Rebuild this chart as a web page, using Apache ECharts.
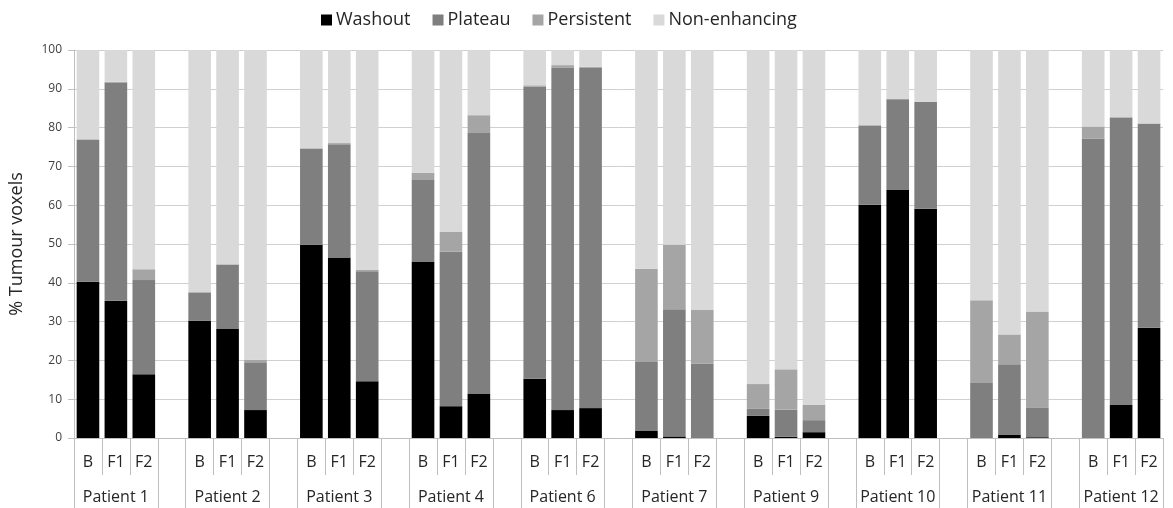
<!DOCTYPE html>
<html>
<head>
<meta charset="utf-8">
<script src="https://cdn.jsdelivr.net/npm/echarts@6/dist/echarts.min.js"></script>
<style>
html,body{margin:0;padding:0;background:#fff;}
#chart{width:1173px;height:508px;}
</style>
</head>
<body>
<div id="chart"></div>
<script>
// ---- data ----
const patients = ['Patient 1','Patient 2','Patient 3','Patient 4','Patient 6','Patient 7','Patient 9','Patient 10','Patient 11','Patient 12'];
const timepoints = ['B','F1','F2'];
const seriesNames = ['Washout','Plateau','Persistent','Non-enhancing'];
// 3 values per patient (B, F1, F2)
const washout = [
  40.3,35.4,16.4,  30.2,28.1,7.2,  49.8,46.5,14.6,  45.5,8.2,11.5,  15.3,7.2,7.7,
  1.8,0.4,0,  5.7,0.3,1.5,  60.1,63.9,59.1,  0,0.9,0.2,  0,8.5,28.4
];
const plateau = [
  36.5,56.2,24.3,  7.2,16.5,12.3,  24.7,29.2,28.4,  21.0,39.8,67.1,  75.3,88.2,87.7,
  17.8,32.8,19.2,  1.8,7.0,3.1,  20.4,23.4,27.5,  14.2,18.1,7.7,  77.2,74.0,52.6
];
const persistent = [
  0.2,0.2,2.8,  0.2,0.2,0.7,  0.2,0.3,0.4,  1.9,5.2,4.6,  0.3,0.7,0.3,
  24.0,16.6,13.8,  6.4,10.4,4.0,  0.2,0.1,0.1,  21.3,7.7,24.7,  3.1,0.2,0.1
];
const nonEnhancing = [
  23.0,8.2,56.5,  62.4,55.2,79.8,  25.3,24.0,56.6,  31.6,46.8,16.8,  9.1,3.9,4.3,
  56.4,50.2,67.0,  86.1,82.3,91.4,  19.3,12.6,13.3,  64.5,73.3,67.4,  19.7,17.3,18.9
];
const yTicks = {min:0, max:100, interval:10};
const colors = ['#000000','#7f7f7f','#a5a5a5','#d9d9d9'];

// ---- build slots: B, F1, F2 per patient, blank slot between patients ----
const subCats = [], groupCats = [];
patients.forEach((p, i) => {
  timepoints.forEach((t, j) => { subCats.push(t); groupCats.push(j === 1 ? p : ''); });
  if (i < patients.length - 1) { subCats.push(''); groupCats.push(''); }
});
function toSlots(arr) {
  const out = [];
  patients.forEach((p, i) => {
    for (let j = 0; j < 3; j++) out.push(arr[i*3 + j]);
    if (i < patients.length - 1) out.push(null);
  });
  return out;
}
const allData = [washout, plateau, persistent, nonEnhancing];
const FONT = '"Open Sans", "Noto Sans", sans-serif';
const axisGray = '#bfbfbf';

const chart = echarts.init(document.getElementById('chart'), null, {renderer:'canvas'});
chart.setOption({
  animation: false,
  textStyle: {fontFamily: FONT},
  legend: {
    left: 316, top: 6,
    itemWidth: 11, itemHeight: 11, itemGap: 22,
    icon: 'rect',
    textStyle: {fontSize: 18, color: '#262626', fontFamily: FONT, padding: [0,0,0,-1]},
    data: seriesNames
  },
  grid: {left: 69, right: 10, top: 50, bottom: 70, containLabel: false},
  xAxis: [
    {
      type: 'category', data: subCats, position: 'bottom',
      axisLine: {show: true, lineStyle: {color: axisGray, width: 1}},
      axisTick: {show: true, length: 37, lineStyle: {color: axisGray},
        interval: function (i) { return i % 4 === 1 || i % 4 === 2; }},
      axisLabel: {interval: 0, margin: 16, fontSize: 16, color: '#262626', fontFamily: FONT},
      splitLine: {show: false}
    },
    {
      type: 'category', data: groupCats, position: 'bottom',
      axisLine: {show: false},
      axisTick: {show: true, length: 72, lineStyle: {color: axisGray},
        interval: function (i) { return i % 4 === 0 || i % 4 === 3; }},
      axisLabel: {interval: 0, margin: 51, fontSize: 16, color: '#262626', fontFamily: FONT},
      splitLine: {show: false}
    }
  ],
  yAxis: {
    type: 'value', min: yTicks.min, max: yTicks.max, interval: yTicks.interval,
    name: '% Tumour voxels', nameLocation: 'middle', nameRotate: 90, nameGap: 48,
    nameTextStyle: {fontSize: 18, color: '#262626', fontFamily: FONT},
    axisLine: {show: true, lineStyle: {color: axisGray}},
    axisTick: {show: true, length: 6, lineStyle: {color: axisGray}},
    axisLabel: {fontSize: 12, color: '#404040', margin: 12, fontFamily: FONT},
    splitLine: {show: true, lineStyle: {color: '#d0d0d0', width: 1}}
  },
  series: seriesNames.map((n, k) => ({
    name: n, type: 'bar', stack: 'total', xAxisIndex: 0,
    barCategoryGap: '19%',
    itemStyle: {color: colors[k]},
    emphasis: {disabled: true},
    data: toSlots(allData[k])
  }))
});
</script>
</body>
</html>
